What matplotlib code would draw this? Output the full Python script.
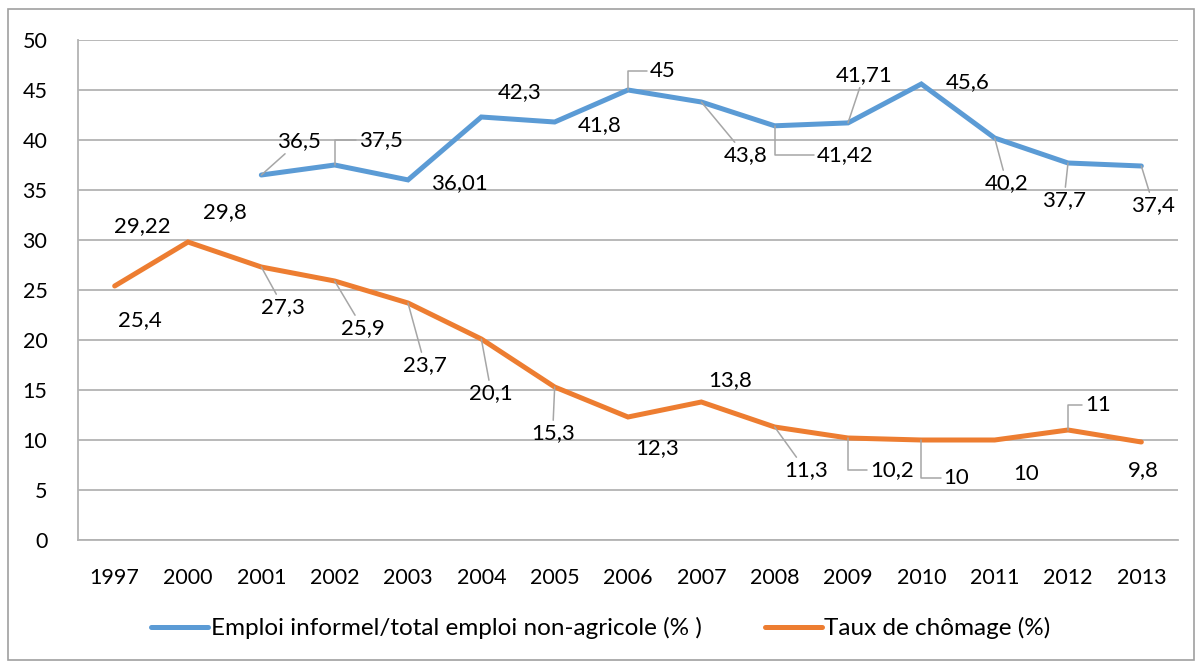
import numpy as np
import matplotlib
matplotlib.use("Agg")
import matplotlib.pyplot as plt
from matplotlib.patches import Rectangle

plt.rcParams['font.family'] = ['Lato', 'DejaVu Sans']

# data
years = ['1997', '2000', '2001', '2002', '2003', '2004', '2005', '2006',
         '2007', '2008', '2009', '2010', '2011', '2012', '2013']
informel = [np.nan, np.nan, 36.5, 37.5, 36.01, 42.3, 41.8, 45, 43.8,
            41.42, 41.71, 45.6, 40.2, 37.7, 37.4]
chomage = [25.4, 29.8, 27.3, 25.9, 23.7, 20.1, 15.3, 12.3, 13.8,
           11.3, 10.2, 10, 10, 11, 9.8]
label_informel = 'Emploi informel/total emploi non-agricole (% )'
label_chomage = 'Taux de chômage (%)'
extra_label = '29,22'   # stray label shown above the 1997 point

blue = '#5B9BD5'
orange = '#ED7D31'
grid_col = '#b3b3b3'
lead_col = '#a6a6a6'

# label offsets in pixels (dx, dy downwards) and leader type
off_blue = [None, None, (38, -34, 'd'), (46, -25, 'e'), (51, 3, None),
            (38, -25, None), (45, 3, None), (35, -19, 'e'), (44, 53, 'd'),
            (70, 29, 'e'), (16, -48, 'd'), (46, -2, None), (12, 45, 'd'),
            (-4, 37, 'd'), (12, 39, 'd')]
off_orange = [(25, 34, None), (37, -30, None), (22, 40, 'd'), (28, 47, 'd'),
              (17, 62, 'd'), (10, 54, 'd'), (-2, 46, 'd'), (29, 31, None),
              (29, -22, None), (31, 43, 'd'), (44, 32, 'e'), (35, 38, 'e'),
              (31, 34, None), (30, -25, 'e'), (2, 28, None)]

fig = plt.figure(figsize=(12.02, 6.66), dpi=100)
ax = fig.add_axes([78 / 1202, 1 - 540 / 666, 1100 / 1202, 500 / 666])

x = np.arange(len(years))
ax.plot(x, informel, color=blue, lw=3.6, solid_capstyle='round',
        solid_joinstyle='miter', label=label_informel, zorder=3)
ax.plot(x, chomage, color=orange, lw=3.6, solid_capstyle='round',
        solid_joinstyle='miter', label=label_chomage, zorder=3)


def fmt(v):
    return ('%g' % v).replace('.', ',')


def add_labels(values, offsets):
    for i, (v, o) in enumerate(zip(values, offsets)):
        if o is None or np.isnan(v):
            continue
        dx, dy, kind = o
        props = None
        if kind == 'd':
            props = dict(arrowstyle='-', color=lead_col, lw=1.1,
                         shrinkA=0, shrinkB=0)
        elif kind == 'e':
            props = dict(arrowstyle='-', color=lead_col, lw=1.1,
                         shrinkA=0, shrinkB=0,
                         connectionstyle='angle,angleA=0,angleB=90,rad=0')
        ax.annotate(fmt(v), xy=(i, v), xytext=(dx, -dy),
                    textcoords='offset pixels', ha='center', va='center',
                    fontsize=16, color='black', arrowprops=props, zorder=4)


add_labels(informel, off_blue)
add_labels(chomage, off_orange)
ax.annotate(extra_label, xy=(0, chomage[0]), xytext=(28, 60),
            textcoords='offset pixels', ha='center', va='center',
            fontsize=16, color='black')

ax.set_xlim(-0.5, len(years) - 0.5)
ax.set_ylim(0, 50)
ax.set_yticks(np.arange(0, 51, 5))
ax.set_xticks(x)
ax.set_xticklabels(years)
ax.tick_params(length=0, labelsize=15.5, colors='black')
ax.tick_params(axis='y', pad=22)
ax.tick_params(axis='x', pad=20)
ax.yaxis.grid(True, color=grid_col, lw=1.3)
ax.set_axisbelow(True)
for s in ['top', 'right']:
    ax.spines[s].set_visible(False)
ax.spines['left'].set_color(grid_col)
ax.spines['left'].set_linewidth(1.3)
ax.spines['bottom'].set_color(grid_col)
ax.spines['bottom'].set_linewidth(1.3)

fig.legend(loc='center', bbox_to_anchor=(0.5, 1 - 628 / 666), ncol=2,
           frameon=False, fontsize=17.5, handlelength=2.35, handletextpad=0.1,
           columnspacing=2.6)

# outer chart border
fig.patches.append(Rectangle((8 / 1202, 6 / 666), 1186 / 1202, 651 / 666,
                             transform=fig.transFigure, fill=False,
                             edgecolor='#a0a0a0', lw=1.2))

fig.savefig('out.png', dpi=100)
